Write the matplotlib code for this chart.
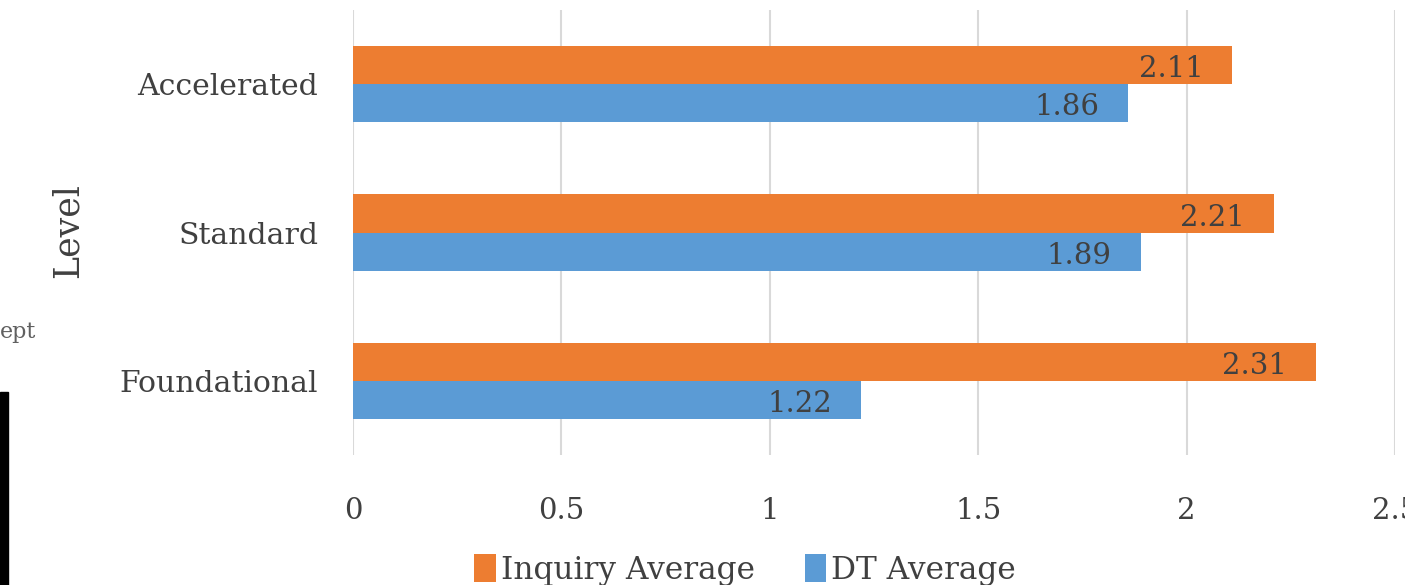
import numpy as np
import matplotlib.pyplot as plt
from matplotlib.patches import Rectangle

# data (bottom to top, as drawn)
levels = ["Foundational", "Standard", "Accelerated"]
inquiry_avg = [2.31, 2.21, 2.11]
dt_avg = [1.22, 1.89, 1.86]
xticks = [0, 0.5, 1, 1.5, 2, 2.5]
xtick_labels = ["0", "0.5", "1", "1.5", "2", "2.5"]

orange = "#ED7D31"
blue = "#5B9BD5"
txt = "#404040"
plt.rcParams['font.family'] = ['DejaVu Serif']

fig = plt.figure(figsize=(14.05, 5.85), dpi=100)
ax = fig.add_axes([353 / 1405, 1 - 455 / 585, 1042 / 1405, 445 / 585])

y = np.arange(len(levels))
h = 0.257
b1 = ax.barh(y + h / 2, inquiry_avg, height=h, color=orange, label="Inquiry Average")
b2 = ax.barh(y - h / 2, dt_avg, height=h, color=blue, label="DT Average")

for bars, vals in ((b1, inquiry_avg), (b2, dt_avg)):
  for bar, v in zip(bars, vals):
    ax.annotate(f"{v:.2f}", (v, bar.get_y() + bar.get_height() / 2),
                xytext=(-21, -3), textcoords="offset points",
                ha="right", va="center", fontsize=21, color=txt)

ax.set_xlim(0, 2.5)
ax.set_ylim(-0.5, 2.5)
ax.set_xticks(xticks)
ax.set_xticklabels(xtick_labels)
ax.set_yticks(y)
ax.set_yticklabels(levels)
ax.tick_params(length=0, labelsize=21, colors=txt)
ax.tick_params(axis="y", labelsize=21.5, pad=25)
ax.tick_params(axis="x", pad=30)
ax.grid(axis="x", color="#D9D9D9", linewidth=1.5)
ax.set_axisbelow(True)
for s in ax.spines.values():
  s.set_visible(False)

ax.set_ylabel("Level", fontsize=25, color=txt)
ax.yaxis.set_label_coords(-0.258, 0.505)

fig.legend(loc="center", bbox_to_anchor=(745 / 1405, 1 - 570 / 585), ncol=2,
           frameon=False, fontsize=22.5, labelcolor=txt, handlelength=0.7,
           handleheight=1.0, handletextpad=0.15, columnspacing=1.6)

# leftovers from the screenshot crop
fig.text(0.0, 1 - 332 / 585, "ept", fontsize=16, color="#606060", va="center", ha="left")
fig.patches.append(Rectangle((0, 0), 8 / 1405, 193 / 585, transform=fig.transFigure,
                             color="black", figure=fig))

fig.savefig("out.png", dpi=100)
